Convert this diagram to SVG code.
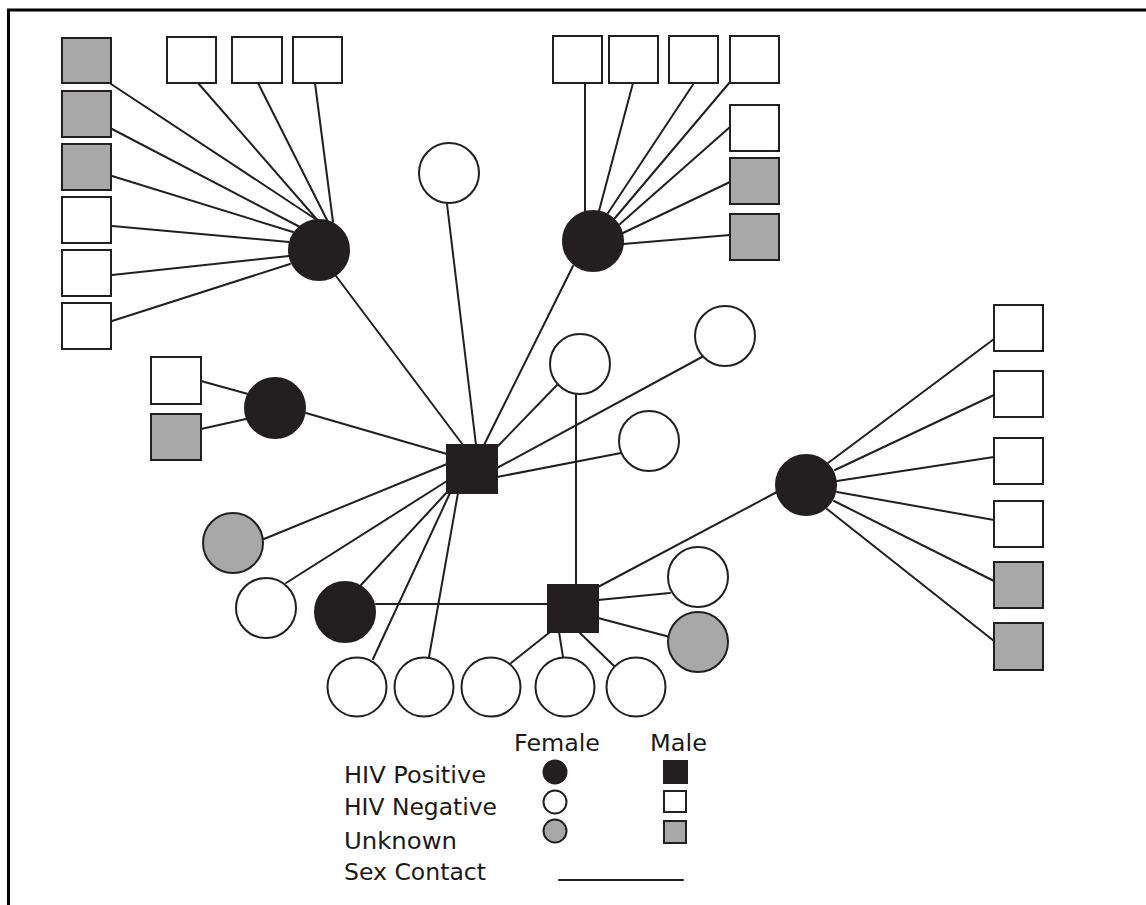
<svg xmlns="http://www.w3.org/2000/svg" width="1146" height="905" viewBox="0 0 1146 905">
<style>
.pos{fill:#231f20;stroke:#231f20;stroke-width:2}
.neg{fill:#ffffff;stroke:#231f20;stroke-width:2}
.unk{fill:#a8a8a8;stroke:#231f20;stroke-width:2}
.edge{stroke:#231f20;stroke-width:2;fill:none;stroke-linecap:round}
.lbl{font-family:"DejaVu Sans","Liberation Sans",sans-serif;font-size:23px;fill:#1a1a1a}
</style>
<rect x="0" y="0" width="1146" height="905" fill="#ffffff"/>
<path d="M8.5 905 V10 H1146" fill="none" stroke="#000000" stroke-width="3"/>
<g id="connectors">
<line class="edge" x1="111" y1="84" x2="320" y2="222"/>
<line class="edge" x1="112" y1="129" x2="300" y2="227"/>
<line class="edge" x1="112" y1="176" x2="293" y2="232"/>
<line class="edge" x1="112" y1="226" x2="289" y2="242"/>
<line class="edge" x1="112" y1="275" x2="289" y2="256"/>
<line class="edge" x1="112" y1="321" x2="290" y2="264"/>
<line class="edge" x1="198" y1="83" x2="320" y2="223"/>
<line class="edge" x1="258" y1="83" x2="328" y2="222"/>
<line class="edge" x1="315" y1="83" x2="333" y2="222"/>
<line class="edge" x1="336" y1="276" x2="463" y2="445"/>
<line class="edge" x1="585" y1="83" x2="585" y2="212"/>
<line class="edge" x1="633" y1="83" x2="599" y2="211"/>
<line class="edge" x1="694" y1="83" x2="608" y2="213"/>
<line class="edge" x1="730" y1="82" x2="615" y2="218"/>
<line class="edge" x1="730" y1="127" x2="620" y2="224"/>
<line class="edge" x1="730" y1="182" x2="623" y2="233"/>
<line class="edge" x1="730" y1="235" x2="623" y2="244"/>
<line class="edge" x1="573" y1="266" x2="484" y2="445"/>
<line class="edge" x1="447" y1="204" x2="476" y2="445"/>
<line class="edge" x1="201" y1="381" x2="248" y2="394"/>
<line class="edge" x1="201" y1="429" x2="246" y2="419"/>
<line class="edge" x1="306" y1="413" x2="447" y2="454"/>
<line class="edge" x1="557" y1="385" x2="497" y2="447"/>
<line class="edge" x1="702" y1="357" x2="497" y2="468"/>
<line class="edge" x1="621" y1="453" x2="497" y2="477"/>
<line class="edge" x1="264" y1="539" x2="447" y2="464"/>
<line class="edge" x1="286" y1="583" x2="447" y2="481"/>
<line class="edge" x1="361" y1="585" x2="449" y2="490"/>
<line class="edge" x1="373" y1="659" x2="450" y2="493"/>
<line class="edge" x1="429" y1="657" x2="458" y2="493"/>
<line class="edge" x1="576" y1="395" x2="576" y2="585"/>
<line class="edge" x1="376" y1="604" x2="548" y2="604"/>
<line class="edge" x1="598" y1="587" x2="777" y2="492"/>
<line class="edge" x1="598" y1="600" x2="670" y2="593"/>
<line class="edge" x1="598" y1="618" x2="670" y2="637"/>
<line class="edge" x1="550" y1="632" x2="511" y2="663"/>
<line class="edge" x1="559" y1="632" x2="563" y2="657"/>
<line class="edge" x1="579" y1="632" x2="614" y2="666"/>
<line class="edge" x1="828" y1="463" x2="994" y2="339"/>
<line class="edge" x1="835" y1="470" x2="994" y2="395"/>
<line class="edge" x1="837" y1="481" x2="994" y2="457"/>
<line class="edge" x1="837" y1="492" x2="994" y2="520"/>
<line class="edge" x1="834" y1="501" x2="994" y2="581"/>
<line class="edge" x1="827" y1="509" x2="994" y2="641"/>
</g>
<g id="tl-sq1"><rect class="unk" x="62" y="38" width="49" height="45"/></g>
<g id="tl-sq2"><rect class="unk" x="62" y="91" width="49" height="46"/></g>
<g id="tl-sq3"><rect class="unk" x="62" y="144" width="49" height="46"/></g>
<g id="tl-sq4"><rect class="neg" x="62" y="197" width="49" height="46"/></g>
<g id="tl-sq5"><rect class="neg" x="62" y="250" width="49" height="46"/></g>
<g id="tl-sq6"><rect class="neg" x="62" y="303" width="49" height="46"/></g>
<g id="tt-sq1"><rect class="neg" x="167" y="37" width="49" height="46"/></g>
<g id="tt-sq2"><rect class="neg" x="232" y="37" width="50" height="46"/></g>
<g id="tt-sq3"><rect class="neg" x="293" y="37" width="49" height="46"/></g>
<g id="b1"><circle class="pos" cx="319" cy="250" r="30"/></g>
<g id="tr-sq1"><rect class="neg" x="553" y="36" width="49" height="47"/></g>
<g id="tr-sq2"><rect class="neg" x="609" y="36" width="49" height="47"/></g>
<g id="tr-sq3"><rect class="neg" x="669" y="36" width="49" height="47"/></g>
<g id="tr-sq4"><rect class="neg" x="730" y="36" width="49" height="47"/></g>
<g id="tr-sq5"><rect class="neg" x="730" y="105" width="49" height="46"/></g>
<g id="tr-sq6"><rect class="unk" x="730" y="158" width="49" height="46"/></g>
<g id="tr-sq7"><rect class="unk" x="730" y="214" width="49" height="46"/></g>
<g id="b2"><circle class="pos" cx="593" cy="241" r="30"/></g>
<g id="o1"><circle class="neg" cx="449" cy="173" r="30"/></g>
<g id="sm-sq1"><rect class="neg" x="151" y="357" width="50" height="47"/></g>
<g id="sm-sq2"><rect class="unk" x="151" y="414" width="50" height="46"/></g>
<g id="b3"><circle class="pos" cx="275" cy="408" r="30"/></g>
<g id="s1"><rect class="pos" x="447" y="445" width="50" height="48"/></g>
<g id="oa"><circle class="neg" cx="580" cy="364" r="30"/></g>
<g id="oc"><circle class="neg" cx="725" cy="336" r="30"/></g>
<g id="ob"><circle class="neg" cx="649" cy="441" r="30"/></g>
<g id="g1"><circle class="unk" cx="233" cy="543" r="30"/></g>
<g id="o2"><circle class="neg" cx="266" cy="608" r="30"/></g>
<g id="b4"><circle class="pos" cx="345" cy="612" r="30"/></g>
<g id="s2"><rect class="pos" x="548" y="585" width="50" height="47"/></g>
<g id="o3"><circle class="neg" cx="698" cy="577" r="30"/></g>
<g id="g2"><circle class="unk" cx="698" cy="642" r="30"/></g>
<g id="bc1"><circle class="neg" cx="357" cy="687" r="29.5"/></g>
<g id="bc2"><circle class="neg" cx="424" cy="687" r="29.5"/></g>
<g id="bc3"><circle class="neg" cx="491" cy="687" r="29.5"/></g>
<g id="bc4"><circle class="neg" cx="565" cy="687" r="29.5"/></g>
<g id="bc5"><circle class="neg" cx="636" cy="687" r="29.5"/></g>
<g id="b5"><circle class="pos" cx="806" cy="485" r="30"/></g>
<g id="r-sq1"><rect class="neg" x="994" y="305" width="49" height="46"/></g>
<g id="r-sq2"><rect class="neg" x="994" y="371" width="49" height="46"/></g>
<g id="r-sq3"><rect class="neg" x="994" y="438" width="49" height="46"/></g>
<g id="r-sq4"><rect class="neg" x="994" y="501" width="49" height="46"/></g>
<g id="r-sq5"><rect class="unk" x="994" y="562" width="49" height="46"/></g>
<g id="r-sq6"><rect class="unk" x="994" y="623" width="49" height="47"/></g>
<g id="legend">
<text class="lbl" x="514" y="751" textLength="86" lengthAdjust="spacingAndGlyphs">Female</text>
<text class="lbl" x="650" y="751" textLength="57" lengthAdjust="spacingAndGlyphs">Male</text>
<text class="lbl" x="344" y="783" textLength="142" lengthAdjust="spacingAndGlyphs">HIV Positive</text>
<text class="lbl" x="344" y="815" textLength="153" lengthAdjust="spacingAndGlyphs">HIV Negative</text>
<text class="lbl" x="344" y="849" textLength="113" lengthAdjust="spacingAndGlyphs">Unknown</text>
<text class="lbl" x="344" y="880" textLength="142" lengthAdjust="spacingAndGlyphs">Sex Contact</text>
<circle class="pos" cx="555" cy="772" r="11.5"/>
<circle class="neg" cx="555" cy="802" r="11.5"/>
<circle class="unk" cx="555" cy="831" r="11.5"/>
<rect class="pos" x="664" y="761" width="23" height="22"/>
<rect class="neg" x="664" y="791" width="22" height="21"/>
<rect class="unk" x="664" y="821" width="22" height="22"/>
<line class="edge" x1="559" y1="880" x2="683" y2="880" stroke-linecap="butt"/>
</g>
</svg>
